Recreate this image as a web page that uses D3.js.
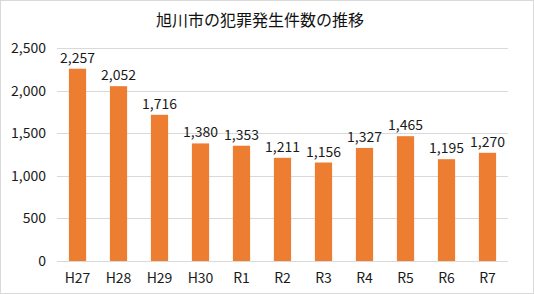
<!DOCTYPE html>
<html>
<head>
<meta charset="utf-8">
<script src="https://cdn.jsdelivr.net/npm/d3@7"></script>
<style>
  body { margin: 0; background: #fff; }
  text { font-family: "Noto Sans CJK JP", sans-serif; }
</style>
</head>
<body>
<div id="space"></div>
<script>
var years = ["H27", "H28", "H29", "H30", "R1", "R2", "R3", "R4", "R5", "R6", "R7"];
var counts = [2257, 2052, 1716, 1380, 1353, 1211, 1156, 1327, 1465, 1195, 1270];
var yTicks = [0, 500, 1000, 1500, 2000, 2500];
var title = "旭川市の犯罪発生件数の推移";

var W = 534, H = 294;
var svg = d3.select("#space").append("svg")
    .attr("width", W)
    .attr("height", H);

// outer border
svg.append("rect")
    .attr("x", 0.5).attr("y", 0.5)
    .attr("width", W - 1).attr("height", H - 1)
    .attr("fill", "#fff")
    .attr("stroke", "#d9d9d9");

var x = d3.scaleBand().domain(years).range([57, 508]).paddingInner(0.58).paddingOuter(0.29);
var y = d3.scaleLinear().domain([0, 2500]).range([261, 48]);

var fmt = d3.format(",");

// grid lines
svg.append("g").selectAll("line")
    .data(yTicks)
    .enter().append("line")
    .attr("x1", 57).attr("x2", 508)
    .attr("y1", function (d) { return Math.round(y(d)) + 0.5; })
    .attr("y2", function (d) { return Math.round(y(d)) + 0.5; })
    .attr("stroke", "#d9d9d9")
    .attr("stroke-width", 1);

// y labels
svg.append("g").selectAll("text")
    .data(yTicks)
    .enter().append("text")
    .attr("x", 46)
    .attr("y", function (d) { return y(d); })
    .attr("dy", "0.35em")
    .attr("text-anchor", "end")
    .attr("font-size", 14)
    .attr("fill", "#1a1a1a")
    .text(function (d) { return fmt(d); });

// bars
svg.append("g").selectAll("rect")
    .data(counts)
    .enter().append("rect")
    .attr("x", function (d, i) { return x(years[i]); })
    .attr("y", function (d) { return y(d); })
    .attr("width", x.bandwidth())
    .attr("height", function (d) { return y(0) - y(d); })
    .attr("fill", "#ed7d31");

// value labels
svg.append("g").selectAll("text")
    .data(counts)
    .enter().append("text")
    .attr("x", function (d, i) { return x(years[i]) + x.bandwidth() / 2; })
    .attr("y", function (d) { return y(d) - 6; })
    .attr("text-anchor", "middle")
    .attr("font-size", 14)
    .attr("fill", "#1a1a1a")
    .text(function (d) { return fmt(d); });

// x labels
svg.append("g").selectAll("text")
    .data(years)
    .enter().append("text")
    .attr("x", function (d) { return x(d) + x.bandwidth() / 2; })
    .attr("y", 283)
    .attr("text-anchor", "middle")
    .attr("font-size", 14)
    .attr("fill", "#1a1a1a")
    .text(function (d) { return d; });

// title
svg.append("text")
    .attr("x", 260)
    .attr("y", 26)
    .attr("text-anchor", "middle")
    .attr("font-size", 16)
    .attr("fill", "#111")
    .text(title);
</script>
</body>
</html>
